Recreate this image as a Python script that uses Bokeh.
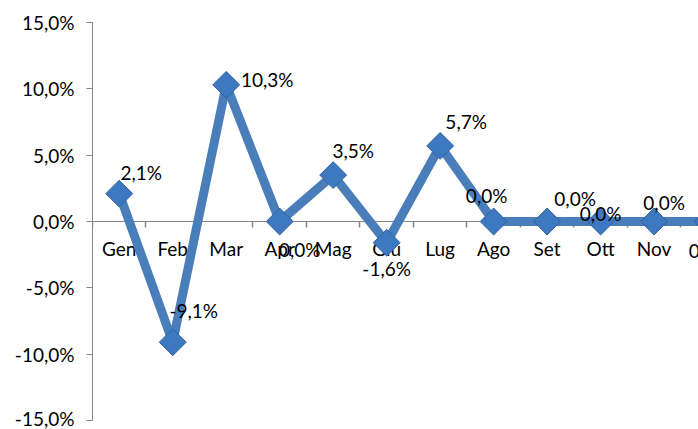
import numpy as np
from bokeh.plotting import figure
from bokeh.models import ColumnDataSource, Range1d, FixedTicker, LinearAxis
from bokeh.embed import file_html
from bokeh.resources import INLINE
from bokeh.core.properties import value

# ---- data ----
months = ["Gen", "Feb", "Mar", "Apr", "Mag", "Giu", "Lug", "Ago", "Set", "Ott", "Nov", "Dic"]
values = [2.1, -9.1, 10.3, 0.0, 3.5, -1.6, 5.7, 0.0, 0.0, 0.0, 0.0, 0.0]
y_ticks = [-15, -10, -5, 0, 5, 10, 15]

# ---- label placement (screen pixels, style only) ----
label_dx = [22, 21, 41, 20, 20, 0, 26, -7, 28, 0, 10, 2]
label_dy = [-21, -32, -5, 28, -25, 26, -24, -26, -23, -8, -19, 29]


def it_pct(v):
    return f"{v:.1f}%".replace(".", ",")


FONT = "Lato"
BLUE = "#4A7EBB"
GRAY = "#868686"

x = list(range(len(months)))
src = ColumnDataSource(dict(
    x=x, y=values, label=[it_pct(v) for v in values],
    dx=label_dx, dy=label_dy,
))

p = figure(width=698, height=429, output_backend="svg", toolbar_location=None,
           x_range=Range1d(-0.5, 10.83), y_range=Range1d(-15, 15),
           min_border_left=92, min_border_right=0, min_border_top=22, min_border_bottom=9)
p.outline_line_color = None
p.grid.visible = False
p.background_fill_color = "white"
p.border_fill_color = "white"

# y axis
ya = p.yaxis[0]
ya.ticker = FixedTicker(ticks=y_ticks)
ya.major_label_overrides = {t: it_pct(t) for t in y_ticks}
ya.minor_tick_line_color = None
ya.major_tick_in = 0
ya.major_tick_out = 6
ya.axis_line_color = GRAY
ya.major_tick_line_color = GRAY
ya.major_label_text_font = FONT
ya.major_label_text_font_size = "19px"
ya.major_label_text_color = "#000000"
ya.major_label_standoff = 12

# x axis (category labels at zero line)
xa = p.xaxis[0]
xa.ticker = FixedTicker(ticks=x)
xa.major_label_overrides = {i: m for i, m in enumerate(months)}
xa.major_tick_line_color = None
xa.minor_tick_line_color = None
xa.axis_line_color = GRAY
xa.fixed_location = 0
xa.major_label_text_font = FONT
xa.major_label_text_font_size = "19px"
xa.major_label_text_color = "#000000"
xa.major_label_standoff = 9
xa.level = "underlay"

# boundary ticks
xb = LinearAxis(ticker=FixedTicker(ticks=[i - 0.5 for i in x]))
xb.fixed_location = 0
xb.major_label_text_color = None
xb.major_label_text_font_size = "1px"
xb.minor_tick_line_color = None
xb.major_tick_in = 0
xb.major_tick_out = 6
xb.major_tick_line_color = GRAY
xb.major_tick_line_width = 1.5
xb.axis_line_color = GRAY
xb.level = "underlay"
p.add_layout(xb, "below")

p.line("x", "y", source=src, line_color=BLUE, line_width=9, line_join="round")
p.scatter("x", "y", source=src, marker="square", angle=np.pi / 4, size=19,
          fill_color="#3D78C1", line_color="#2F62A0", line_width=1)
p.text("x", "y", text="label", source=src, x_offset="dx", y_offset="dy",
       text_font=value(FONT), text_font_size="19px", text_align="center",
       text_baseline="middle", text_color="#000000")

open("out.html", "w").write(file_html(p, INLINE))
